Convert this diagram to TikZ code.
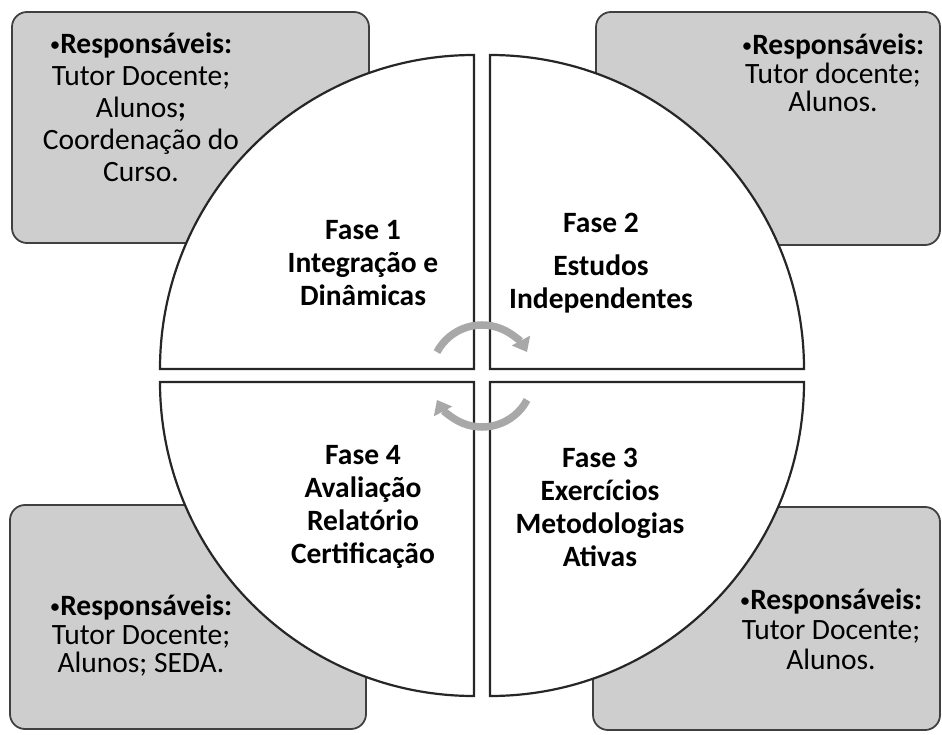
\documentclass[tikz,border=0pt]{standalone}
\usepackage{fontspec}
\setmainfont{Carlito}
\usepackage{xcolor}
\usepackage{tikz}
\usetikzlibrary{arrows.meta,positioning}

\definecolor{boxgray}{RGB}{206,206,206}
\definecolor{cyclegray}{RGB}{168,168,168}
\newcommand\respdot{\raisebox{2pt}{\fontsize{21}{21}\selectfont•}}

\begin{document}
\begin{tikzpicture}
  [x=1pt,y=-1pt,
   resp box/.style={draw=black!75,line width=1.8pt,fill=boxgray,rounded corners=15pt,inner sep=0pt},
   resp text/.style={align=center,font=\fontsize{29.5}{30}\selectfont},
   phase/.style={draw=black!85,line width=2.2pt,fill=white},
   phase text/.style={align=center,font=\bfseries\fontsize{29.5}{33}\selectfont},
   cycle arrow/.style={draw=cyclegray,line width=7.5pt,-{Triangle[width=20pt,length=13pt]}}]
  \useasboundingbox (0,0) rectangle (942,735);

  % boxes of the people in charge
  \node[resp box,minimum width=357pt,minimum height=231pt] (box1) at (190.5,127.5) {};
  \node[resp box,minimum width=344pt,minimum height=233pt] (box2) at (768,128.5) {};
  \node[resp box,minimum width=347pt,minimum height=223pt] (box3) at (766.5,618.5) {};
  \node[resp box,minimum width=356pt,minimum height=224pt] (box4) at (188,617) {};

  % the four phases
  \draw[phase] (474,369) -- ++(-314,0) arc[start angle=180,end angle=270,radius=314] -- cycle;
  \draw[phase] (490,369) -- ++(0,-314) arc[start angle=270,end angle=360,radius=314] -- cycle;
  \draw[phase] (490,382) -- ++(314,0) arc[start angle=0,end angle=90,radius=314] -- cycle;
  \draw[phase] (474,382) -- ++(0,314) arc[start angle=90,end angle=180,radius=314] -- cycle;

  \coordinate (hub) at (482,376);
  \draw[cycle arrow] ([shift={(-152:51)}]hub) arc[start angle=-152,end angle=-28,radius=51];
  \draw[cycle arrow] ([shift={(28:51)}]hub) arc[start angle=28,end angle=152,radius=51];

  \node[phase text] (fase1) at (363,263) {Fase 1\\Integração e\\Dinâmicas};
  \node[phase text] (fase2) at (601,263) {Fase 2\\[10pt]Estudos\\Independentes};
  \node[phase text] (fase3) at (600,507) {Fase 3\\Exercícios\\Metodologias\\Ativas};
  \node[phase text] (fase4) at (363,507) {Fase 4\\Avaliação\\Relatório\\Certificação};

  \node[resp text,font=\fontsize{29.5}{32}\selectfont] (resp1) at (141,107)
    {\respdot\textbf{Responsáveis:}\\Tutor Docente;\\Alunos\textbf{;}\\Coordenação do\\Curso.};
  \node[resp text,font=\fontsize{29.5}{28.5}\selectfont] (resp2) at (833,73)
    {\respdot\textbf{Responsáveis:}\\Tutor docente;\\Alunos.};
  \node[resp text] (resp3) at (831,629)
    {\respdot\textbf{Responsáveis:}\\Tutor Docente;\\Alunos.};
  \node[resp text,font=\fontsize{29.5}{28.5}\selectfont] (resp4) at (141,636)
    {\respdot\textbf{Responsáveis:}\\Tutor Docente;\\Alunos; SEDA.};
\end{tikzpicture}
\end{document}
